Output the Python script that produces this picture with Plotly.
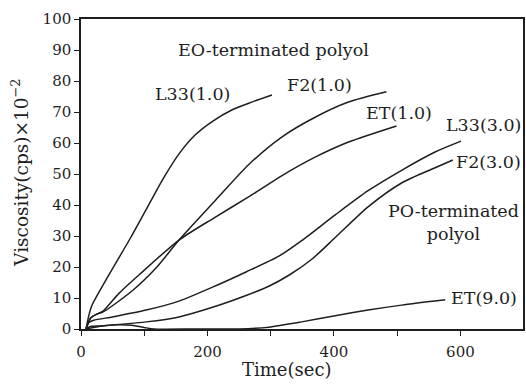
import plotly.graph_objects as go

# ---- data ----
t_L33_1 = [8, 12, 17, 40, 80, 111, 130, 155, 180, 208, 240, 270, 302]
v_L33_1 = [0, 4, 7.5, 16, 30, 41.5, 48.5, 56.5, 62.5, 67, 70.8, 73.2, 75.5]

t_F2_1 = [8, 15, 25, 35, 82, 120, 155, 213, 265, 318, 371, 423, 483]
v_F2_1 = [0, 3.5, 4.8, 5.5, 12.5, 20, 28.7, 41.6, 53, 62, 68.4, 73.2, 76.5]

t_ET_1 = [8, 15, 25, 35, 60, 92, 155, 210, 265, 318, 371, 423, 499]
v_ET_1 = [0, 3.5, 4.8, 5.8, 11.5, 17.5, 28.7, 35.8, 42.6, 49.5, 55.5, 60.3, 65.5]

t_L33_3 = [8, 12, 20, 50, 103, 155, 208, 261, 313, 349, 402, 454, 507, 560, 601]
v_L33_3 = [0, 2, 2.8, 3.9, 6.1, 9, 13.5, 18.4, 23.5, 28.5, 36.8, 44.6, 51.2, 57.1, 60.6]

t_F2_3 = [8, 15, 30, 103, 155, 208, 261, 297, 330, 365, 402, 454, 507, 560, 588]
v_F2_3 = [0, 0.8, 1, 2.3, 3.9, 7, 10.8, 13.8, 17.5, 22.5, 29.5, 39.4, 47.1, 52, 54.5]

t_ET_9 = [8, 20, 40, 60, 80, 100, 115, 180, 250, 297, 349, 402, 454, 507, 576]
v_ET_9 = [0, 0.5, 1.1, 1.4, 1.2, 0.5, 0, 0, 0, 0.6, 2.3, 4.3, 6.1, 7.7, 9.4]

series = [
    ("L33(1.0)", t_L33_1, v_L33_1),
    ("F2(1.0)", t_F2_1, v_F2_1),
    ("ET(1.0)", t_ET_1, v_ET_1),
    ("L33(3.0)", t_L33_3, v_L33_3),
    ("F2(3.0)", t_F2_3, v_F2_3),
    ("ET(9.0)", t_ET_9, v_ET_9),
]

x_ticks = [0, 200, 400, 600]
y_ticks = list(range(0, 101, 10))

FONT = "DejaVu Serif"
INK = "#1e1e1e"

fig = go.Figure()
for name, t, v in series:
    fig.add_trace(go.Scatter(x=t, y=v, mode="lines", name=name,
                             line=dict(color=INK, width=1.5, shape="spline", smoothing=0.7),
                             showlegend=False, hoverinfo="skip"))

labels = [
    ("EO-terminated polyol", 305, 90),
    ("L33(1.0)", 176, 75.8),
    ("F2(1.0)", 377, 78.7),
    ("ET(1.0)", 503, 69.7),
    ("L33(3.0)", 637, 65.8),
    ("F2(3.0)", 645, 53.9),
    ("PO-terminated<br>polyol", 589, 34.2),
    ("ET(9.0)", 638, 10),
]
for txt, x, y in labels:
    fig.add_annotation(x=x, y=y, xref="x", yref="y", text=txt, showarrow=False,
                       font=dict(family=FONT, size=17.5, color=INK),
                       xanchor="center", yanchor="middle", align="center")

fig.add_annotation(x=-0.137, y=0.505, xref="paper", yref="paper",
                   text="Viscosity(cps)×10<sup>−2</sup>", textangle=-90, showarrow=False,
                   font=dict(family=FONT, size=18.5, color=INK), xanchor="center", yanchor="middle")
fig.add_annotation(x=0.467, y=-0.132, xref="paper", yref="paper",
                   text="Time(sec)", showarrow=False,
                   font=dict(family=FONT, size=18, color=INK), xanchor="center", yanchor="middle")

fig.update_layout(
    width=526, height=389,
    margin=dict(l=81, r=1, t=19, b=60),
    paper_bgcolor="white", plot_bgcolor="white",
    xaxis=dict(range=[0, 699], tickvals=x_ticks, ticktext=[str(v) for v in x_ticks],
               ticks="outside", ticklen=5, tickwidth=1.2, tickcolor=INK, ticklabelstandoff=3,
               minor=dict(dtick=100, tick0=0, ticks="outside", ticklen=5, tickwidth=1.2, tickcolor=INK),
               showgrid=False, zeroline=False, showline=True, linecolor=INK, linewidth=1.5,
               mirror=True, tickfont=dict(family=FONT, size=15, color=INK)),
    yaxis=dict(range=[0, 100], tickvals=y_ticks, ticks="outside", ticklen=5, tickwidth=1.2,
               tickcolor=INK, showgrid=False, zeroline=False, showline=True, linecolor=INK,
               linewidth=1.5, mirror=True, tickfont=dict(family=FONT, size=15, color=INK)),
)

fig.write_html("out.html", config={"displayModeBar": False},
               post_script="document.body.style.margin='0';document.body.style.overflow='hidden';")
